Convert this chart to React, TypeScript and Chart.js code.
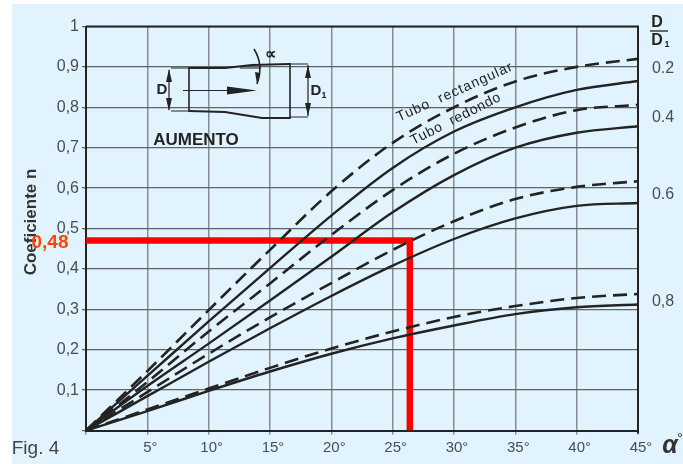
import React, { useEffect, useRef } from "react";
import { Chart, registerables } from "chart.js";

Chart.register(...registerables);

const alphaStops = [0, 5, 10, 15, 20, 25, 30, 35, 40, 45];
const rect02 = [0, 0.147, 0.298, 0.447, 0.592, 0.712, 0.8, 0.864, 0.9, 0.92];
const round02 = [0, 0.135, 0.27, 0.402, 0.532, 0.65, 0.74, 0.8, 0.843, 0.865];
const rect04 = [0, 0.12, 0.245, 0.364, 0.484, 0.595, 0.685, 0.75, 0.793, 0.806];
const round04 = [0, 0.11, 0.215, 0.322, 0.43, 0.54, 0.632, 0.7, 0.737, 0.753];
const rect06 = [0, 0.095, 0.19, 0.28, 0.365, 0.447, 0.518, 0.573, 0.603, 0.617];
const round06 = [0, 0.085, 0.17, 0.253, 0.333, 0.408, 0.474, 0.525, 0.556, 0.563];
const rect08 = [0, 0.052, 0.104, 0.155, 0.203, 0.245, 0.281, 0.308, 0.328, 0.338];
const round08 = [0, 0.048, 0.098, 0.146, 0.19, 0.228, 0.26, 0.288, 0.305, 0.312];
const readingAlpha = 26.4;
const readingN = 0.47;
const ratioLabels = ["0.2", "0.4", "0.6", "0,8"];
const ratioAt = [0.895, 0.775, 0.585, 0.32];

const INK = "#232323";
const GRID_H = "#5f6466";
const GRID_V = "#858d91";
const TEXT = "#4a4d50";
const SANS = '"Liberation Sans", Arial, sans-serif';

const line = (values: number[], dashed: boolean) => ({
  data: values.map((y, i) => ({ x: alphaStops[i], y })),
  borderColor: INK,
  borderWidth: dashed ? 2.6 : 2.4,
  borderDash: dashed ? [14, 7] : [],
  pointRadius: 0,
  cubicInterpolationMode: "monotone" as const,
  fill: false,
});

const annotations = {
  id: "annotations",
  afterDatasetsDraw(chart: any) {
    const { ctx, scales, chartArea } = chart;
    const y = (v: number) => scales.y.getPixelForValue(v);
    const text = (
      s: string,
      px: number,
      py: number,
      font: string,
      color: string,
      rot = 0,
      spacing = "0px",
    ) => {
      ctx.save();
      ctx.translate(px, py);
      ctx.rotate(rot);
      ctx.font = font;
      ctx.letterSpacing = spacing;
      ctx.fillStyle = color;
      ctx.textAlign = "center";
      ctx.textBaseline = "middle";
      ctx.fillText(s, 0, 0);
      ctx.restore();
    };
    const seg = (pts: number[][], w: number, color = INK) => {
      ctx.save();
      ctx.beginPath();
      ctx.strokeStyle = color;
      ctx.lineWidth = w;
      pts.forEach((p, i) => (i ? ctx.lineTo(p[0], p[1]) : ctx.moveTo(p[0], p[1])));
      ctx.stroke();
      ctx.restore();
    };

    seg(
      [
        [chartArea.left, chartArea.top],
        [chartArea.right, chartArea.top],
        [chartArea.right, chartArea.bottom + 3],
      ],
      2,
    );

    ratioLabels.forEach((s, i) => text(s, 663, y(ratioAt[i]), `16px ${SANS}`, TEXT));
    text("D", 657, 23, `bold 16px ${SANS}`, INK);
    seg([[650, 31], [668, 31]], 1.3);
    text("D", 657, 41, `bold 16px ${SANS}`, INK);
    text("1", 667, 45, `bold 9px ${SANS}`, INK);

    text("Tubo  rectangular", 455, 92, `14px ${SANS}`, INK, -0.424, "1px");
    text("Tubo  redondo", 456, 119, `14px ${SANS}`, INK, -0.47, "0.7px");

    text("AUMENTO", 196, 140, `bold 17px ${SANS}`, INK);
    text("Coeficiente n", 31, 222, `bold 17px ${SANS}`, "#333", -Math.PI / 2);
    text("Fig. 4", 35.5, 449, `19px ${SANS}`, "#444");
    text("\u03b1", 670, 446, `italic bold 25px ${SANS}`, "#333");
    text("\u00b0", 680, 439, `15px ${SANS}`, "#333");
    text("0,48", 50, 243, `bold 19px ${SANS}`, "#ff4500");

    // Diffuser sketch
    seg([[189, 68], [225, 68], [252, 65], [290, 64]], 2.2);
    seg([[189, 111], [225, 112], [262, 118], [290, 118]], 2.2);
    seg([[189, 67], [189, 112]], 1.6);
    seg([[290, 63], [290, 119]], 1.6);
    seg([[171, 68], [189, 68]], 1);
    seg([[171, 111], [189, 111]], 1);
    seg([[169, 70], [169, 110]], 1.2);
    seg([[290, 64], [308, 64]], 1);
    seg([[290, 117], [308, 117]], 1);
    seg([[308, 65], [308, 116]], 1.2);
    seg([[183, 90.5], [228, 90.5]], 1);
    seg([[240, 68], [261, 68]], 1);
    ctx.save();
    ctx.fillStyle = INK;
    ctx.beginPath();
    ctx.moveTo(227, 86.5);
    ctx.lineTo(257, 90.5);
    ctx.lineTo(227, 94.5);
    ctx.closePath();
    ctx.fill();
    [
      [169, 69, 166, 82, 172, 82],
      [169, 111, 166, 98, 172, 98],
      [308, 65, 305, 78, 311, 78],
      [308, 116, 305, 103, 311, 103],
      [257, 84, 255, 72, 260, 73],
    ].forEach((t) => {
      ctx.beginPath();
      ctx.moveTo(t[0], t[1]);
      ctx.lineTo(t[2], t[3]);
      ctx.lineTo(t[4], t[5]);
      ctx.closePath();
      ctx.fill();
    });
    ctx.restore();
    ctx.save();
    ctx.beginPath();
    ctx.strokeStyle = INK;
    ctx.lineWidth = 1.6;
    ctx.moveTo(254, 49);
    ctx.quadraticCurveTo(264, 65, 257, 84);
    ctx.stroke();
    ctx.restore();
    text("D", 162, 90, `bold 15px ${SANS}`, INK);
    text("D", 316, 91, `bold 15px ${SANS}`, INK);
    text("1", 324, 96, `bold 9px ${SANS}`, INK);
    text("\u221d", 270, 55, `bold 16px ${SANS}`, INK);
  },
};

export default function App() {
  const ref = useRef<HTMLCanvasElement>(null);

  useEffect(() => {
    const chart = new Chart(ref.current!, {
      type: "line",
      data: {
        datasets: [
          line(rect02, true),
          line(round02, false),
          line(rect04, true),
          line(round04, false),
          line(rect06, true),
          line(round06, false),
          line(rect08, true),
          line(round08, false),
          {
            data: [
              { x: 0, y: readingN },
              { x: readingAlpha, y: readingN },
              { x: readingAlpha, y: 0 },
            ],
            borderColor: "#ff0000",
            borderWidth: 6.5,
            pointRadius: 0,
            borderJoinStyle: "miter",
            tension: 0,
            fill: false,
          },
        ],
      },
      options: {
        animation: false,
        responsive: false,
        layout: { padding: { left: 0, right: 45, top: 26.5, bottom: 0 } },
        plugins: { legend: { display: false }, tooltip: { enabled: false } },
        scales: {
          x: {
            type: "linear",
            min: 0,
            max: 45,
            afterFit: (s: any) => {
              s.height = 33.5;
            },
            ticks: {
              stepSize: 5,
              color: TEXT,
              font: { family: SANS, size: 15 },
              maxRotation: 0,
              padding: 4,
              labelOffset: 3,
              callback: (v: any) => (v === 0 ? "" : `${v}°`),
            },
            grid: { color: GRID_V, lineWidth: 1.5, tickLength: 4 },
            border: { color: INK, width: 2 },
          },
          y: {
            min: 0,
            max: 1,
            afterFit: (s: any) => {
              s.width = 86;
            },
            ticks: {
              stepSize: 0.1,
              color: TEXT,
              font: { family: SANS, size: 16 },
              padding: 3,
              callback: (v: any) => {
                const n = Number(v);
                if (n === 0) return "";
                if (n === 1) return "1";
                return n.toFixed(1).replace(".", ",");
              },
            },
            grid: { color: GRID_H, lineWidth: 1.3, tickLength: 4 },
            border: { color: INK, width: 2 },
          },
        },
      },
      plugins: [annotations],
    } as any);
    return () => chart.destroy();
  }, []);

  return (
    <div style={{ position: "fixed", left: 0, top: 0, width: 683, height: 464, background: "#fff" }}>
      <div style={{ position: "absolute", left: 12, top: 4, width: 671, height: 460, background: "#e0f3fe" }} />
      <canvas ref={ref} width={683} height={464} style={{ position: "absolute", left: 0, top: 0, display: "block" }} />
    </div>
  );
}
